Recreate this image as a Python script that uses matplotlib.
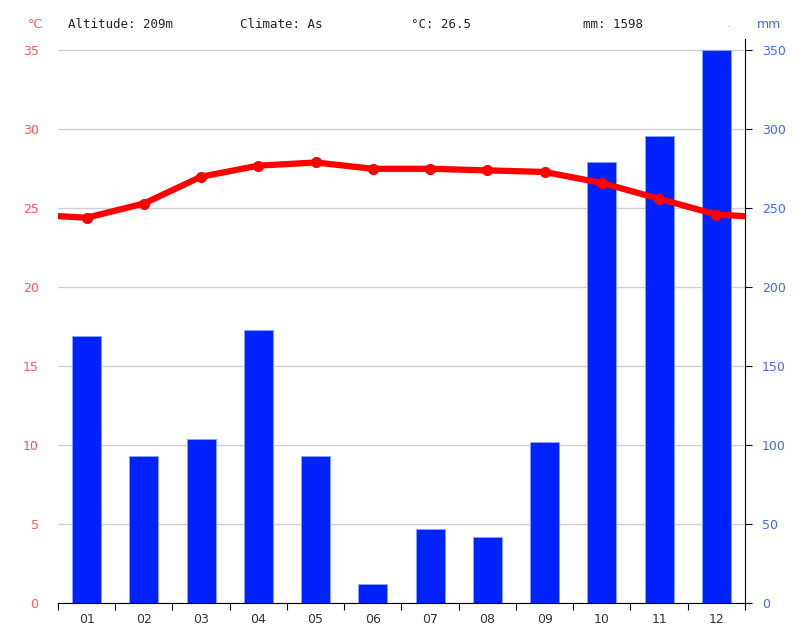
import matplotlib.pyplot as plt

months = ["01", "02", "03", "04", "05", "06", "07", "08", "09", "10", "11", "12"]
temp_c = [24.4, 25.3, 27.0, 27.7, 27.9, 27.5, 27.5, 27.4, 27.3, 26.6, 25.6, 24.6]
precip_mm = [169, 93, 104, 173, 93, 12, 47, 42, 102, 279, 296, 350]
temp_ticks = [0, 5, 10, 15, 20, 25, 30, 35]
precip_ticks = [0, 50, 100, 150, 200, 250, 300, 350]

header = ["Altitude: 209m", "Climate: As", "°C: 26.5", "mm: 1598"]

red = "#ff0000"
blue = "#0022ff"

fig = plt.figure(figsize=(8.04, 6.42), dpi=100)
ax = fig.add_axes([58 / 804, 1 - 603 / 642, (745 - 58) / 804, (603 - 39) / 642])
ax2 = ax.twinx()

# bars on the precipitation axes (drawn underneath)
x = list(range(len(months)))
ax.bar(x, precip_mm, width=0.51, color=blue, edgecolor="#8aa0ff", linewidth=0.7, zorder=2)
ax.set_xlim(-0.5, 11.5)
ax.set_ylim(0, 357.2)
for t in precip_ticks:
    ax.axhline(t, color="#d0d0d0", linewidth=1, zorder=1)
ax.yaxis.tick_right()
ax.set_yticks(precip_ticks)
ax.tick_params(axis="y", color="black", labelsize=9, length=5, pad=7, labelcolor="#4466ff")

ax.set_xticks([i - 0.5 for i in range(13)])
ax.set_xticklabels([])
ax.set_xticks(x, minor=True)
ax.set_xticklabels(months, minor=True)
ax.tick_params(axis="x", which="major", length=5, color="black")
ax.tick_params(axis="x", which="minor", length=0, pad=7, labelsize=9, labelcolor="#333333")

for side in ["top", "left"]:
    ax.spines[side].set_visible(False)
    ax2.spines[side].set_visible(False)
ax.spines["right"].set_color("black")
ax.spines["bottom"].set_color("black")

# temperature line, extended to the plot edges
edge = (temp_c[0] + temp_c[-1]) / 2
ax2.plot([-0.5] + x + [11.5], [edge] + temp_c + [edge], color=red, linewidth=4.5, zorder=3)
ax2.plot(x, temp_c, "o", color=red, markersize=7, zorder=4)
ax2.set_ylim(0, 35.72)
ax2.yaxis.tick_left()
ax2.set_yticks(temp_ticks)
ax2.tick_params(axis="y", length=0, pad=14, labelsize=9, labelcolor="#ff5555")
ax2.spines["right"].set_visible(False)
ax2.spines["bottom"].set_visible(False)

# header line
fig.text(28 / 804, 1 - 24 / 642, "°C", color="#ff5555", fontsize=9, va="center")
xs = [68, 240, 411, 583]
for xp, s in zip(xs, header):
    fig.text(xp / 804, 1 - 24 / 642, s, fontsize=9, family="DejaVu Sans Mono", va="center", color="#222222")
fig.text(727 / 804, 1 - 24 / 642, ".", fontsize=7, color="#aaaaaa", va="center")
fig.text(757 / 804, 1 - 24 / 642, "mm", color="#4466ff", fontsize=9, va="center")

fig.savefig("out.png", dpi=100)
